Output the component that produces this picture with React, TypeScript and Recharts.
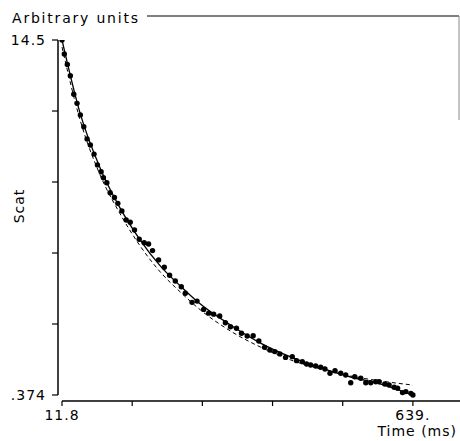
import React from 'react';
import { ComposedChart, Line, Scatter, XAxis, YAxis, ReferenceLine } from 'recharts';

// measured points (time in ms, Scat in arbitrary units)
const timeMs = [
  11.8, 15.9, 21.3, 26.7, 32.8, 38.7, 44.6, 50.7, 56.6, 62.5,
  69.1, 75.1, 81.7, 85.8, 91.9, 97.8, 105.5, 111.6, 118.8, 126.5,
  133.7, 141.4, 149.8, 158.7, 166.5, 173.6, 184.4, 194.6, 204.1, 214.3,
  225.0, 232.2, 244.2, 253.2, 265.0, 274.0, 282.9, 293.7, 303.9, 312.9,
  323.6, 332.6, 342.8, 353.5, 363.6, 373.8, 383.3, 392.2, 401.2, 411.4,
  423.4, 431.1, 441.3, 449.0, 456.2, 465.2, 474.1, 481.8, 490.8, 499.8,
  510.0, 518.9, 527.9, 535.1, 545.8, 554.8, 563.7, 572.7, 578.6, 588.8,
  596.5, 605.5, 611.6, 620.5, 626.5, 635.4, 639
];
const scat = [
  14.5, 13.94, 13.53, 13.08, 12.34, 11.98, 11.52, 11.05, 10.56, 10.32,
  9.96, 9.53, 9.26, 9.02, 8.82, 8.42, 8.23, 8.0, 7.7, 7.34,
  7.25, 6.94, 6.57, 6.43, 6.38, 6.12, 5.75, 5.46, 5.14, 4.91,
  4.68, 4.42, 4.06, 4.11, 3.78, 3.63, 3.59, 3.52, 3.25, 3.09,
  3.03, 2.83, 2.72, 2.73, 2.52, 2.27, 2.16, 2.1, 2.01, 1.87,
  1.9, 1.74, 1.7, 1.61, 1.57, 1.53, 1.48, 1.41, 1.24, 1.34,
  1.24, 1.17, 0.86, 1.1, 1.04, 0.86, 0.86, 0.9, 0.9, 0.81,
  0.77, 0.68, 0.64, 0.47, 0.51, 0.44, 0.374
];

// fitted curves
const fitTimeMs = [11.8, 44.1, 79.9, 115.7, 151.6, 187.4, 223.3, 259.1, 312.9, 366.6, 420.4, 474.1, 527.9, 581.7, 639];
const fitSolid = [14.5, 11.59, 9.41, 7.81, 6.54, 5.51, 4.71, 3.99, 3.16, 2.44, 1.89, 1.45, 1.09, 0.81, 0.374];
const fitDashed = [14.22, 11.32, 9.13, 7.58, 6.3, 5.27, 4.47, 3.76, 2.92, 2.28, 1.77, 1.41, 1.13, 0.93, 0.77];

const xTicks = [11.8, 137.24, 262.68, 388.12, 513.56, 639];
const yTicks = [0.374, 3.199, 6.024, 8.849, 11.674, 14.5];
const xTickText: Record<string, string> = { '11.8': '11.8', '639': '639.' };
const yTickText: Record<string, string> = { '0.374': '.374', '14.5': '14.5' };

const X_DOMAIN: [number, number] = [4.63, 723.2];
const Y_DOMAIN: [number, number] = [0.135, 14.5];

const points = timeMs.map((t, i) => ({ t, v: scat[i] }));
const solidData = fitTimeMs.map((t, i) => ({ t, v: fitSolid[i] }));
const dashedData = fitTimeMs.map((t, i) => ({ t, v: fitDashed[i] }));

const FONT = '"DejaVu Sans", sans-serif';

const Dot = (props: any) => <circle cx={props.cx} cy={props.cy} r={2.7} fill="#000" />;

export default function App() {
  return (
    <div style={{ position: 'absolute', left: 0, top: 0, width: 460, height: 441, background: '#fff' }}>
      <ComposedChart width={460} height={441} margin={{ top: 40, right: 0, bottom: 0, left: 0 }}>
        <XAxis
          dataKey="t"
          type="number"
          domain={X_DOMAIN}
          allowDataOverflow
          ticks={xTicks}
          tickFormatter={(v) => xTickText[String(v)] ?? ''}
          axisLine={false}
          tickLine={{ stroke: '#000', strokeWidth: 1.2 }}
          tickSize={5}
          tickMargin={4}
          height={40}
          tick={{ fill: '#000', fontSize: 14, fontFamily: FONT, letterSpacing: 1 }}
        />
        <YAxis
          type="number"
          domain={Y_DOMAIN}
          allowDataOverflow
          ticks={yTicks}
          tickFormatter={(v) => yTickText[String(v)] ?? ''}
          axisLine={false}
          tickLine={{ stroke: '#000', strokeWidth: 1.2 }}
          tickSize={6}
          tickMargin={6}
          width={58}
          tick={{ fill: '#000', fontSize: 14, fontFamily: FONT, letterSpacing: 1 }}
        />
        <ReferenceLine
          segment={[{ x: 11.8, y: 0.135 }, { x: 723.2, y: 0.135 }]}
          stroke="#000"
          strokeWidth={1.5}
          ifOverflow="visible"
        />
        <ReferenceLine
          segment={[{ x: 4.63, y: 0.374 }, { x: 4.63, y: 14.5 }]}
          stroke="#000"
          strokeWidth={1.5}
          ifOverflow="visible"
        />
        <Line
          data={dashedData}
          dataKey="v"
          type="monotone"
          stroke="#000"
          strokeWidth={1}
          strokeDasharray="4 3"
          dot={false}
          activeDot={false}
          isAnimationActive={false}
        />
        <Line
          data={solidData}
          dataKey="v"
          type="monotone"
          stroke="#000"
          strokeWidth={1.3}
          dot={false}
          activeDot={false}
          isAnimationActive={false}
        />
        <Scatter data={points} dataKey="v" shape={Dot} isAnimationActive={false} />
      </ComposedChart>
      <svg
        width={460}
        height={441}
        style={{ position: 'absolute', left: 0, top: 0, pointerEvents: 'none' }}
      >
        <text x={12} y={23} fontSize={14} fontFamily={FONT} letterSpacing={1.8} fill="#000">
          Arbitrary units
        </text>
        <line x1={147} y1={16} x2={459} y2={16} stroke="#000" strokeWidth={1.2} />
        <line x1={459} y1={16} x2={459} y2={120} stroke="#888" strokeWidth={1} />
        <text
          x={24}
          y={206}
          fontSize={14}
          fontFamily={FONT}
          letterSpacing={1}
          textAnchor="middle"
          transform="rotate(-90 24 206)"
          fill="#000"
        >
          Scat
        </text>
        <text x={457} y={436} fontSize={14} fontFamily={FONT} letterSpacing={1} textAnchor="end" fill="#000">
          Time (ms)
        </text>
      </svg>
    </div>
  );
}
